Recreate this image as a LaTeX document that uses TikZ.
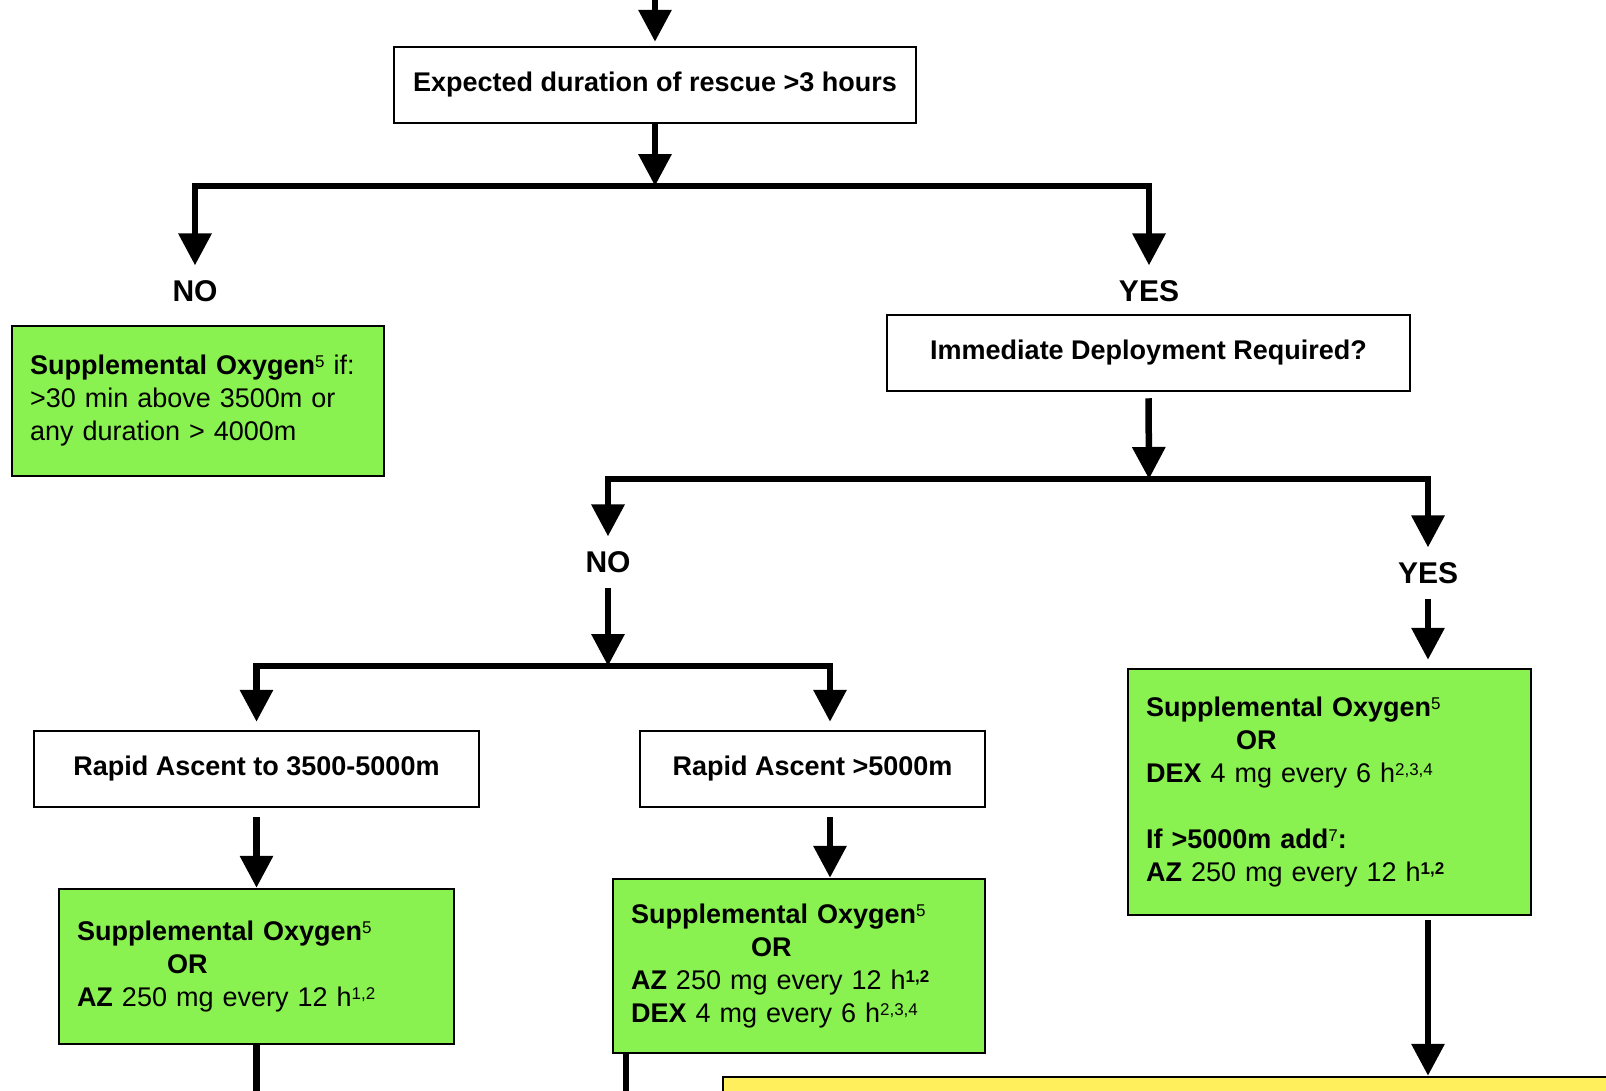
\documentclass[tikz,border=0pt]{standalone}
\usepackage{fontspec}
\setmainfont{Liberation Sans}
\usetikzlibrary{arrows.meta}

\definecolor{oxgreen}{RGB}{138,242,80}
\definecolor{noteyellow}{RGB}{255,239,92}
\newcommand{\chartfont}{\fontsize{27}{33}\selectfont}
\newcommand{\supnote}[1]{\raisebox{7pt}{\fontsize{17}{17}\selectfont #1}}

\tikzset{
  flow/.style={line width=6.5pt},
  flowarrow/.style={flow, -{Triangle[width=32pt,length=32pt]}},
  gap/.style={shorten >=8pt},
  question/.style={draw, line width=2.5pt, fill=white, font=\chartfont\bfseries,
    minimum height=76pt, inner sep=0pt},
  treat/.style={draw, line width=2.5pt, fill=oxgreen, font=\chartfont, align=left,
    inner xsep=18pt, inner ysep=0pt},
  answer/.style={font=\fontsize{30}{36}\selectfont\bfseries, inner sep=0pt, outer sep=15pt},
}

\begin{document}
\begin{tikzpicture}[x=1pt, y=-1pt]
  \useasboundingbox (0,0) rectangle (1606,1090);
  \clip (0,0) rectangle (1606,1090);

  % questions
  \node[question, minimum width=522pt] (rescue) at (655,85) {Expected duration of rescue >3 hours};
  \node[question, minimum width=523pt] (deploy) at (1148.5,353) {Immediate Deployment Required?};
  \node[question, minimum width=445pt] (ascmid) at (256.5,769) {Rapid Ascent to 3500-5000m};
  \node[question, minimum width=345pt] (aschigh) at (812.5,769) {Rapid Ascent >5000m};

  % answers
  \node[answer] (no1) at (195,291) {NO};
  \node[answer] (yes1) at (1149,291) {YES};
  \node[answer] (no2) at (608,562) {NO};
  \node[answer] (yes2) at (1428,573) {YES};

  % treatments
  \node[treat, text width=336pt, minimum height=150pt] (oxshort) at (198,401)
    {\textbf{Supplemental Oxygen}\supnote{5} if:\\
     >30 min above 3500m or\\
     any duration > 4000m};
  \node[treat, text width=359pt, minimum height=155pt] (oxmid) at (256.5,966.5)
    {\textbf{Supplemental Oxygen}\supnote{5}\\
     \hspace*{90pt}\textbf{OR}\\
     \textbf{AZ} 250 mg every 12 h\supnote{1,2}};
  \node[treat, text width=336pt, minimum height=174pt] (oxhigh) at (799,966)
    {\textbf{Supplemental Oxygen}\supnote{5}\\
     \hspace*{120pt}\textbf{OR}\\
     \textbf{AZ} 250 mg every 12 h\supnote{\bfseries 1,2}\\
     \textbf{DEX} 4 mg every 6 h\supnote{2,3,4}};
  \node[treat, text width=367pt, minimum height=246pt] (oxnow) at (1329.5,792)
    {\textbf{Supplemental Oxygen}\supnote{5}\\
     \hspace*{90pt}\textbf{OR}\\
     \textbf{DEX} 4 mg every 6 h\supnote{2,3,4}\\[33pt]
     \textbf{If >5000m add}\supnote{7}\textbf{:}\\
     \textbf{AZ} 250 mg every 12 h\supnote{\bfseries 1,2}};

  % note box running off the page
  \node[draw, line width=2.5pt, fill=noteyellow, minimum width=907pt, minimum height=53pt]
    (note) at (1176.5,1103.5) {};

  % junctions and loose ends
  \coordinate (entry) at (655,-10);
  \coordinate (j1) at (655,186);
  \coordinate (j2) at (1149,479);
  \coordinate (j3) at (608,666);
  \coordinate (out1) at (256.5,1100);
  \coordinate (out2) at (626,1100);

  % connectors
  \draw[flowarrow, shorten >=4pt] (entry) -- (rescue.north);
  \draw[flowarrow] (rescue.south) -- (j1);
  \draw[flowarrow] (j1) -| (no1.north);
  \draw[flowarrow] (j1) -| (yes1.north);
  \draw[flowarrow, shorten <=6pt] (deploy.south) -- (j2);
  \draw[flowarrow] (j2) -| (no2.north);
  \draw[flowarrow] (j2) -| (yes2.north);
  \draw[flowarrow] (no2.south) -- (j3);
  \draw[flowarrow, gap] (j3) -| (ascmid.north);
  \draw[flowarrow, gap] (j3) -| ([xshift=17.5pt]aschigh.north);
  \draw[flowarrow, gap] (yes2.south) -- (yes2 |- oxnow.north);
  \draw[flowarrow, shorten <=9pt] (ascmid.south) -- (oxmid.north);
  \draw[flowarrow, shorten <=9pt] ([xshift=17.5pt]aschigh.south) -- ([xshift=17.5pt]aschigh.south |- oxhigh.north);
  \draw[flow] (oxmid.south) -- (out1);
  \draw[flow] (oxhigh.south -| out2) -- (out2);
  \draw[flowarrow, shorten <=4pt] (oxnow.south -| yes2) -- (note.north -| yes2);
\end{tikzpicture}
\end{document}
